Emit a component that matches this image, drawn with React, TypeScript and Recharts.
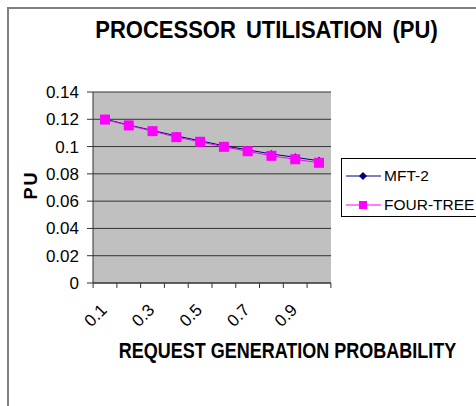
import { LineChart, Line, XAxis, YAxis, CartesianGrid } from "recharts"

const categories = ["0.1", "0.2", "0.3", "0.4", "0.5", "0.6", "0.7", "0.8", "0.9", "1"]
const mft2 = [0.1201, 0.1158, 0.1118, 0.1078, 0.1042, 0.1006, 0.0976, 0.0946, 0.0921, 0.0896]
const fourTree = [0.1198, 0.1155, 0.1113, 0.1069, 0.1035, 0.0998, 0.0966, 0.0932, 0.0907, 0.0881]
const yTicks = [0, 0.02, 0.04, 0.06, 0.08, 0.1, 0.12, 0.14]

const data = categories.map((c, i) => ({ p: c, mft2: mft2[i], fourTree: fourTree[i] }))

const FONT = "'Liberation Sans', Arial, sans-serif"
const HALF_STEP = 11.9

function XTick(props: any) {
  const { x, y, index } = props
  const last = index === categories.length - 1
  return (
    <g>
      <line x1={x - HALF_STEP} y1={y} x2={x - HALF_STEP} y2={y + 5} stroke="#333" />
      {last && <line x1={x + HALF_STEP} y1={y} x2={x + HALF_STEP} y2={y + 5} stroke="#333" />}
      {index % 2 === 0 && (
        <text
          x={x + 3}
          y={y + 28}
          transform={`rotate(-45 ${x + 3} ${y + 28})`}
          textAnchor="end"
          fontSize={17}
          fontFamily={FONT}
          fill="#000"
        >
          {props.payload.value}
        </text>
      )}
    </g>
  )
}

function Diamond(props: any) {
  const { cx, cy } = props
  if (cx == null || cy == null) return null
  return <path d={`M${cx},${cy - 4}L${cx + 4},${cy}L${cx},${cy + 4}L${cx - 4},${cy}Z`} fill="#000080" />
}

function Square(props: any) {
  const { cx, cy } = props
  if (cx == null || cy == null) return null
  return <rect x={cx - 5} y={cy - 5} width={10} height={10} fill="#ff00ff" />
}

function LegendBox() {
  const row = (label: string, color: string, square: boolean) => (
    <div style={{ display: "flex", alignItems: "center", height: 29 }}>
      <svg width={36} height={12} style={{ marginLeft: 4, marginRight: 2 }}>
        <line x1={0} y1={6} x2={35} y2={6} stroke={color} strokeWidth={1} />
        {square ? (
          <rect x={13} y={2} width={8} height={8} fill={color} />
        ) : (
          <path d="M17,2L21,6L17,10L13,6Z" fill={color} />
        )}
      </svg>
      <span>{label}</span>
    </div>
  )
  return (
    <div
      style={{
        position: "absolute",
        left: 341,
        top: 158,
        border: "1px solid #000",
        borderRight: "none",
        background: "#fff",
        width: 135,
        height: 59,
        boxSizing: "border-box",
        paddingTop: 2,
        fontFamily: FONT,
        fontSize: 15.5,
        whiteSpace: "nowrap",
      }}
    >
      {row("MFT-2", "#000080", false)}
      {row("FOUR-TREE", "#ff00ff", true)}
    </div>
  )
}

export default function App() {
  return (
    <div
      style={{
        position: "absolute",
        left: 0,
        top: 0,
        width: 476,
        height: 406,
        overflow: "hidden",
        background: "#fff",
        fontFamily: FONT,
      }}
    >
      <div
        style={{
          position: "absolute",
          left: 7,
          top: 7,
          right: 0,
          bottom: 0,
          borderTop: "2px solid #808080",
          borderLeft: "2px solid #808080",
        }}
      />
      <div
        style={{
          position: "absolute",
          left: 0,
          top: 18,
          width: 533,
          textAlign: "center",
          fontSize: 22,
          fontWeight: "bold",
          wordSpacing: 4,
          transform: "scaleY(1.05)",
        }}
      >
        PROCESSOR UTILISATION (PU)
      </div>
      <div
        style={{
          position: "absolute",
          left: 0,
          top: 341,
          width: 575,
          textAlign: "center",
          fontSize: 18,
          fontWeight: "bold",
          transform: "scaleY(1.2)",
        }}
      >
        REQUEST GENERATION PROBABILITY
      </div>
      <div
        style={{
          position: "absolute",
          left: 31,
          top: 185,
          transform: "translate(-50%, -50%) rotate(-90deg)",
          fontSize: 18,
          fontWeight: "bold",
          letterSpacing: 2,
        }}
      >
        PU
      </div>
      <LineChart
        width={476}
        height={406}
        data={data}
        margin={{ top: 92, right: 145, left: 43, bottom: 63 }}
        style={{ position: "absolute", left: 0, top: 0 }}
      >
        <CartesianGrid fill="#c0c0c0" stroke="#333" vertical={false} />
        <XAxis
          dataKey="p"
          interval={0}
          height={60}
          padding={{ left: 12, right: 12 }}
          tickSize={0}
          tickMargin={0}
          tickLine={false}
          axisLine={{ stroke: "#333" }}
          tick={<XTick />}
        />
        <YAxis
          domain={[0, 0.14]}
          ticks={yTicks}
          interval={0}
          width={50}
          tickSize={6}
          tickMargin={8}
          tickLine={{ stroke: "#333" }}
          axisLine={{ stroke: "#333" }}
          tick={{ fill: "#000", fontSize: 17, fontFamily: FONT }}
        />
        <YAxis yAxisId="frame" orientation="right" width={0} tick={false} axisLine={{ stroke: "#808080" }} />
        <Line
          dataKey="mft2"
          name="MFT-2"
          stroke="#000080"
          strokeWidth={1}
          dot={<Diamond />}
          isAnimationActive={false}
        />
        <Line
          dataKey="fourTree"
          name="FOUR-TREE"
          stroke="#ff00ff"
          strokeWidth={1}
          dot={<Square />}
          isAnimationActive={false}
        />
      </LineChart>
      <LegendBox />
    </div>
  )
}
